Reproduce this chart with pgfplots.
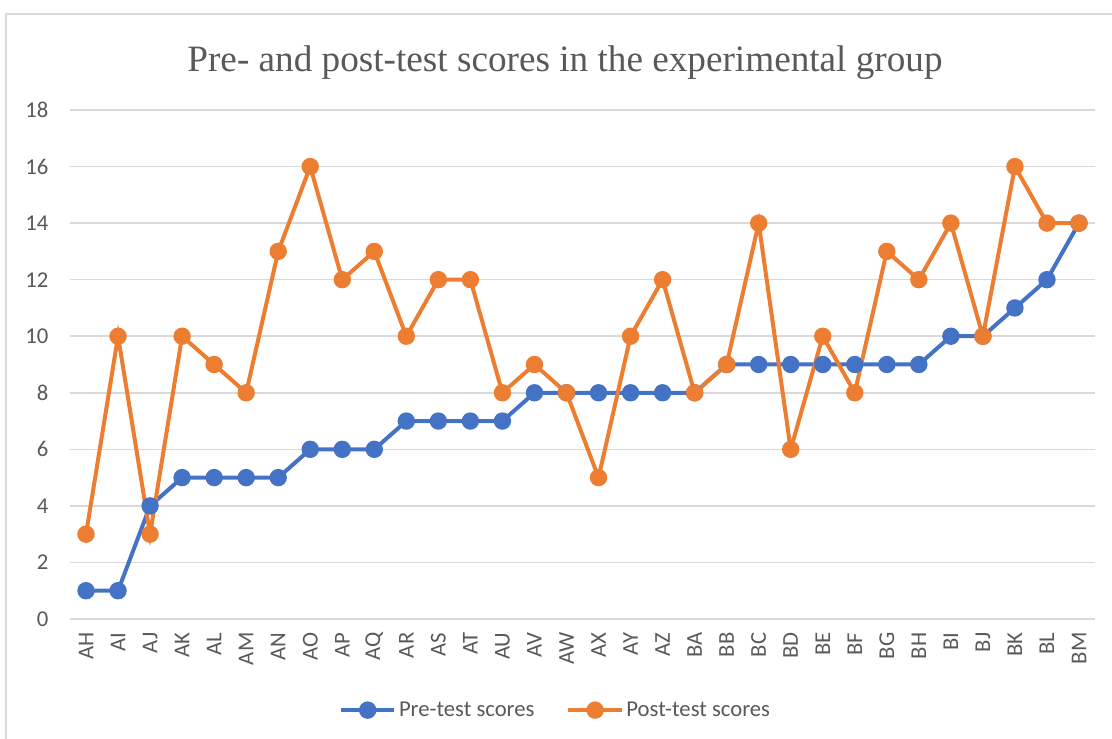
\documentclass[border=0pt]{standalone}
\usepackage{pgfplots}
\pgfplotsset{compat=1.18}
\usepackage{fontspec}
\setmainfont{Carlito}
\newfontfamily\titlefont{Liberation Serif}
\definecolor{exblue}{HTML}{4472C4}
\definecolor{exorange}{HTML}{ED7D31}
\definecolor{txtgray}{HTML}{595959}
\definecolor{gridgray}{HTML}{D9D9D9}
\begin{document}
\begin{tikzpicture}
\useasboundingbox (0,0) rectangle (834pt,553.5pt);
\draw[gridgray, line width=1.2pt] (4.5pt,-20pt) -- (4.5pt,543pt) -- (860pt,543pt);
\node[anchor=base, text=txtgray, font={\titlefont\fontsize{27.9pt}{30pt}\selectfont}] at (423.75pt,500pt) {Pre- and post-test scores in the experimental group};
\begin{axis}[
  at={(52.5pt,89.25pt)}, anchor=south west,
  width=768.75pt, height=381.75pt, scale only axis,
  xmin=-0.5, xmax=31.5, ymin=0, ymax=18,
  ytick={0,2,...,18},
  xtick={0,...,31},
  xticklabels={AH,AI,AJ,AK,AL,AM,AN,AO,AP,AQ,AR,AS,AT,AU,AV,AW,AX,AY,AZ,BA,BB,BC,BD,BE,BF,BG,BH,BI,BJ,BK,BL,BM},
  axis line style={draw=none},
  major tick length=0pt,
  ymajorgrids,
  grid style={gridgray, line width=1.2pt},
  /pgf/number format/assume math mode=true,
  tick label style={text=txtgray, font=\fontsize{17pt}{20pt}\selectfont},
  xticklabel style={rotate=90, anchor=east, inner sep=0pt, yshift=0pt},
  xticklabel shift=10pt,
  yticklabel style={anchor=east, inner sep=0pt},
  yticklabel shift=16pt,
  clip=false,
  legend columns=2,
  legend style={at={(0.474,-0.179)}, anchor=center, draw=none, fill=none,
    font=\fontsize{17pt}{20pt}\selectfont, text=txtgray,
    /tikz/every even column/.append style={column sep=22pt}},
  legend image code/.code={\draw[mark repeat=2,mark phase=2] plot coordinates {(0pt,0pt)(20pt,0pt)(40pt,0pt)};},
]
\addplot[exblue, line width=3pt, mark=*, mark size=5pt] coordinates {
(0,1)(1,1)(2,4)(3,5)(4,5)(5,5)(6,5)(7,6)(8,6)(9,6)(10,7)(11,7)(12,7)(13,7)(14,8)(15,8)
(16,8)(17,8)(18,8)(19,8)(20,9)(21,9)(22,9)(23,9)(24,9)(25,9)(26,9)(27,10)(28,10)(29,11)(30,12)(31,14)};
\addlegendentry{Pre-test scores}
\addplot[exorange, line width=3pt, mark=*, mark size=5pt] coordinates {
(0,3)(1,10)(2,3)(3,10)(4,9)(5,8)(6,13)(7,16)(8,12)(9,13)(10,10)(11,12)(12,12)(13,8)(14,9)(15,8)
(16,5)(17,10)(18,12)(19,8)(20,9)(21,14)(22,6)(23,10)(24,8)(25,13)(26,12)(27,14)(28,10)(29,16)(30,14)(31,14)};
\addlegendentry{Post-test scores}
\end{axis}
\end{tikzpicture}
\end{document}
